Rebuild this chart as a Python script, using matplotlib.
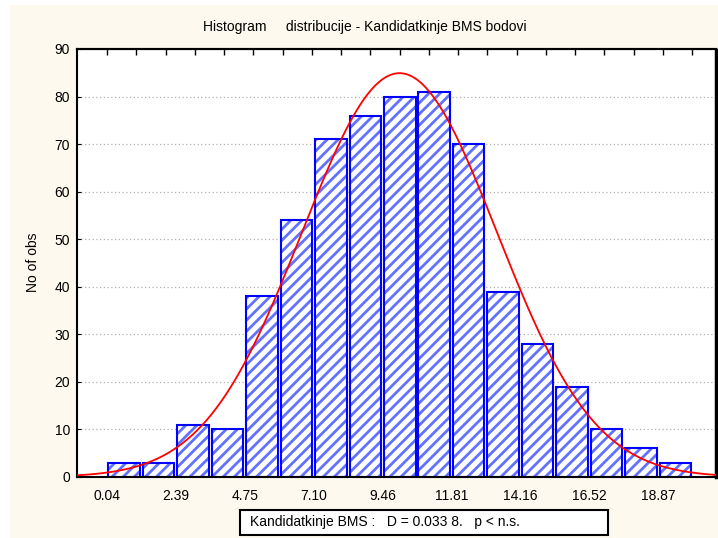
import numpy as np
import matplotlib
matplotlib.use("Agg")
import matplotlib.pyplot as plt
from matplotlib.patches import Rectangle

plt.rcParams["font.family"] = ["Liberation Sans", "DejaVu Sans"]
plt.rcParams["hatch.linewidth"] = 2.0

# data
bin_start = 0.04
bin_width = 1.1775
counts = [3, 3, 11, 10, 38, 54, 71, 76, 80, 81, 70, 39, 28, 19, 10, 6, 3]
tick_labels = ["0.04", "2.39", "4.75", "7.10", "9.46", "11.81", "14.16", "16.52", "18.87"]
fit_mean = 10.04
fit_sd = 3.33
title = "Histogram     distribucije - Kandidatkinje BMS bodovi"
stats_text = "Kandidatkinje BMS :   D = 0.033 8.   p < n.s."

cream = "#fdf9ee"

fig = plt.figure(figsize=(7.18, 5.38), dpi=100, facecolor="white")
fig.patches.append(Rectangle((10 / 718, 0), 1, 1 - 5 / 538, transform=fig.transFigure,
                             facecolor=cream, edgecolor="none", zorder=-10))

ax = fig.add_axes([77 / 718, 1 - 477 / 538, (716 - 77) / 718, (477 - 49) / 538])
ax.set_facecolor("white")

edges = bin_start + bin_width * np.arange(len(counts))
centers = edges + bin_width / 2
bar_w = bin_width * 0.915
# hatch in a lighter blue, outline in pure blue on top
ax.bar(centers, counts, width=bar_w, facecolor="white", edgecolor="#6272ff",
       hatch="///", linewidth=0, zorder=2)
ax.bar(centers, counts, width=bar_w, fill=False, edgecolor="#0000ff", linewidth=1.5, zorder=2.5)

# fitted normal curve
xs = np.linspace(-1.0, 20.9, 400)
n_total = sum(counts)
ys = n_total * bin_width / (fit_sd * np.sqrt(2 * np.pi)) * np.exp(-0.5 * ((xs - fit_mean) / fit_sd) ** 2)
ax.plot(xs, ys, color="#ff0000", linewidth=1.3, zorder=3)

ax.set_xlim(-0.986, 20.86)
ax.set_ylim(0, 90)

tick_pos = [bin_start + 2 * bin_width * i for i in range(len(tick_labels))]
ax.set_xticks(tick_pos)
ax.set_xticklabels(tick_labels, fontsize=10)
ax.tick_params(axis="x", length=0, pad=9)
ax.set_yticks(range(0, 91, 10))
ax.tick_params(axis="y", direction="in", length=3, labelsize=10, pad=5)

# inward ticks along the top edge
top = ax.secondary_xaxis("top")
top.set_xticks(np.arange(bin_start, 20.86, 1.0))
top.set_xticklabels([])
top.tick_params(direction="in", length=4, width=1)
top.spines["top"].set_linewidth(1.5)

ax.yaxis.grid(True, linestyle=(0, (1, 2)), color="#b0b0b0", linewidth=0.9, zorder=0)
ax.set_axisbelow(True)

for s in ["left", "bottom", "top"]:
    ax.spines[s].set_linewidth(1.5)
ax.spines["right"].set_linestyle((0, (1, 1)))
ax.spines["right"].set_linewidth(2.5)

fig.text(33 / 718, 1 - 262 / 538, "No of obs", rotation=90, ha="center", va="center", fontsize=10)
fig.text(365 / 718, 1 - 27 / 538, title, ha="center", va="center", fontsize=10)

fig.patches.append(Rectangle((240 / 718, 1 - 535 / 538), 368 / 718, 25 / 538, transform=fig.transFigure,
                             facecolor="white", edgecolor="black", linewidth=1.5))
fig.text(250 / 718, 1 - 522 / 538, stats_text, ha="left", va="center", fontsize=10)

fig.savefig("out.png", dpi=100, facecolor=fig.get_facecolor())
